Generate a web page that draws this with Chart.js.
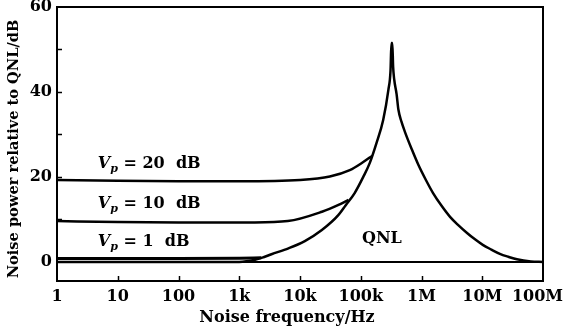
<!DOCTYPE html>
<html><head><meta charset="utf-8">
<script src="https://cdn.jsdelivr.net/npm/chart.js@4/dist/chart.umd.min.js"></script>
<style>html,body{margin:0;padding:0;background:#fff}#wrap{width:564px;height:331px}</style>
</head><body><div id="wrap"><canvas id="c" width="564" height="331"></canvas></div>
<script>
// ---- data ----
const xTickValues = [1, 10, 100, 1e3, 1e4, 1e5, 1e6, 1e7, 1e8];
const xTickLabels = ['1', '10', '100', '1k', '10k', '100k', '1M', '10M', '100M'];
const yTickValues = [0, 20, 40, 60];
const yMinorTicks = [10, 20, 30, 40, 50];

const xTitle = 'Noise frequency/Hz';
const yTitle = 'Noise power relative to QNL/dB';

// QNL curve (quantum noise limit): frequency in Hz, power in dB
const qnlFreq = [1, 1000, 1820, 2510, 3390, 6460, 1.2e4, 2.29e4, 4.27e4, 5.62e4, 7.94e4, 1.1e5, 1.41e5, 1.82e5, 2.34e5, 2.85e5, 3.09e5, 3.2e5, 3.31e5, 3.41e5, 3.55e5, 3.89e5, 4.17e5, 4.68e5, 5.37e5, 6.92e5, 8.91e5, 1.17e6, 1.55e6, 2.14e6, 2.95e6, 4.07e6, 5.62e6, 7.59e6, 1.02e7, 1.41e7, 1.95e7, 2.69e7, 3.72e7, 6.31e7, 1e8];
const qnlDb   = [0, 0, 0.5, 1.1, 1.8, 3.2, 4.9, 7.5, 11.0, 13.3, 16.2, 20.0, 23.3, 28.0, 33.4, 40.5, 45.0, 51.5, 51.5, 46.0, 43.0, 39.5, 35.8, 33.0, 30.5, 26.5, 22.8, 19.4, 16.2, 13.2, 10.6, 8.6, 6.8, 5.3, 4.0, 2.9, 1.9, 1.2, 0.6, 0.1, 0];

// Vp = 20 dB
const vp20Freq = [1, 10, 100, 1e3, 1e4, 3.1e4, 6.6e4, 1.1e5, 1.55e5];
const vp20Db   = [19.3, 19.1, 19.0, 19.0, 19.3, 20.1, 21.6, 23.5, 25.0];

// Vp = 10 dB
const vp10Freq = [1, 10, 100, 1e3, 1.8e3, 6.3e3, 2.3e4, 4.3e4, 6.3e4];
const vp10Db   = [9.6, 9.4, 9.3, 9.3, 9.3, 9.6, 11.8, 13.4, 14.6];

// Vp = 1 dB
const vp1Freq = [1, 10, 100, 1e3, 2.3e3];
const vp1Db   = [0.8, 0.8, 0.8, 0.85, 0.95];

// 0 dB reference line
const baseFreq = [1, 1e8];
const baseDb   = [0, 0];

function pts(xs, ys) { return xs.map((x, i) => ({ x: x, y: ys[i] })); }

const SERIF = '"DejaVu Serif", "Liberation Serif", serif';
const INK = '#000';
const CANVAS_W = 564;

const annotations = [
  { parts: [['V', 'italic bold 16px'], ['p', 'italic bold 11px', 4], [' = 20  dB', 'bold 16px']], f: 4.7, db: 22.1 },
  { parts: [['V', 'italic bold 16px'], ['p', 'italic bold 11px', 4], [' = 10  dB', 'bold 16px']], f: 4.7, db: 12.7 },
  { parts: [['V', 'italic bold 16px'], ['p', 'italic bold 11px', 4], [' = 1  dB', 'bold 16px']], f: 4.7, db: 3.7 },
  { parts: [['QNL', 'bold 16px']], f: 1.05e5, db: 4.5 }
];

const decorPlugin = {
  id: 'decor',
  afterDraw(chart) {
    const { ctx, chartArea: a, scales: { x, y } } = chart;
    ctx.save();
    ctx.strokeStyle = INK;
    ctx.fillStyle = INK;
    ctx.lineWidth = 2;
    ctx.strokeRect(a.left, a.top, a.right - a.left, a.bottom - a.top);
    ctx.lineWidth = 1.5;
    yMinorTicks.forEach(v => {
      const py = Math.round(y.getPixelForValue(v)) + 0.5;
      ctx.beginPath(); ctx.moveTo(a.left, py); ctx.lineTo(a.left + 5, py); ctx.stroke();
    });
    xTickValues.slice(1, -1).forEach(v => {
      const px = Math.round(x.getPixelForValue(v)) + 0.5;
      ctx.beginPath(); ctx.moveTo(px, a.bottom); ctx.lineTo(px, a.bottom - 5); ctx.stroke();
    });
    // x tick labels (kept inside the canvas)
    ctx.font = 'bold 16px ' + SERIF;
    ctx.textAlign = 'center';
    ctx.textBaseline = 'middle';
    xTickValues.forEach((v, i) => {
      const w = ctx.measureText(xTickLabels[i]).width;
      let px = x.getPixelForValue(v);
      px = Math.min(px, CANVAS_W - w / 2 - 1);
      ctx.fillText(xTickLabels[i], px, a.bottom + 16);
    });
    // annotations
    ctx.textBaseline = 'alphabetic';
    ctx.textAlign = 'left';
    annotations.forEach(an => {
      let px = x.getPixelForValue(an.f);
      const py = y.getPixelForValue(an.db);
      an.parts.forEach(p => {
        ctx.font = p[1] + ' ' + SERIF;
        ctx.fillText(p[0], px, py + (p[2] || 0));
        px += ctx.measureText(p[0]).width;
      });
    });
    // axis titles
    ctx.font = 'bold 16px ' + SERIF;
    ctx.textAlign = 'center';
    ctx.textBaseline = 'middle';
    ctx.fillText(xTitle, 287, 318);
    ctx.save();
    ctx.translate(14, 149);
    ctx.rotate(-Math.PI / 2);
    ctx.font = 'bold 14.6px ' + SERIF;
    ctx.fillText(yTitle, 0, 0);
    ctx.restore();
    ctx.restore();
  }
};

const lineDs = (label, xs, ys, w) => ({
  label, data: pts(xs, ys), showLine: true, borderColor: INK, backgroundColor: INK,
  borderWidth: w, pointRadius: 0, cubicInterpolationMode: 'monotone', fill: false
});

new Chart(document.getElementById('c'), {
  type: 'scatter',
  data: {
    datasets: [
      lineDs('baseline', baseFreq, baseDb, 2),
      lineDs('QNL', qnlFreq, qnlDb, 2.5),
      lineDs('Vp = 20 dB', vp20Freq, vp20Db, 2.5),
      lineDs('Vp = 10 dB', vp10Freq, vp10Db, 2.5),
      lineDs('Vp = 1 dB', vp1Freq, vp1Db, 3)
    ]
  },
  options: {
    responsive: false,
    animation: false,
    devicePixelRatio: 1,
    layout: { padding: { top: 7, right: 21, left: 0, bottom: 0 } },
    plugins: { legend: { display: false }, tooltip: { enabled: false } },
    scales: {
      x: {
        type: 'logarithmic', min: 1, max: 1e8,
        afterBuildTicks: s => { s.ticks = xTickValues.map(v => ({ value: v })); },
        afterFit: s => { s.height = 50; s.paddingLeft = 0; s.paddingRight = 0; },
        grid: { display: false, drawTicks: false },
        border: { display: false },
        ticks: { display: false }
      },
      y: {
        type: 'linear', min: -4.5, max: 60,
        afterBuildTicks: s => { s.ticks = yTickValues.map(v => ({ value: v })); },
        afterFit: s => { s.width = 57; s.paddingTop = 0; s.paddingBottom = 0; },
        grid: { display: false, drawTicks: false },
        border: { display: false },
        ticks: { padding: 5, color: INK, font: { family: SERIF, weight: 'bold', size: 16 } }
      }
    }
  },
  plugins: [decorPlugin]
});
</script></body></html>
